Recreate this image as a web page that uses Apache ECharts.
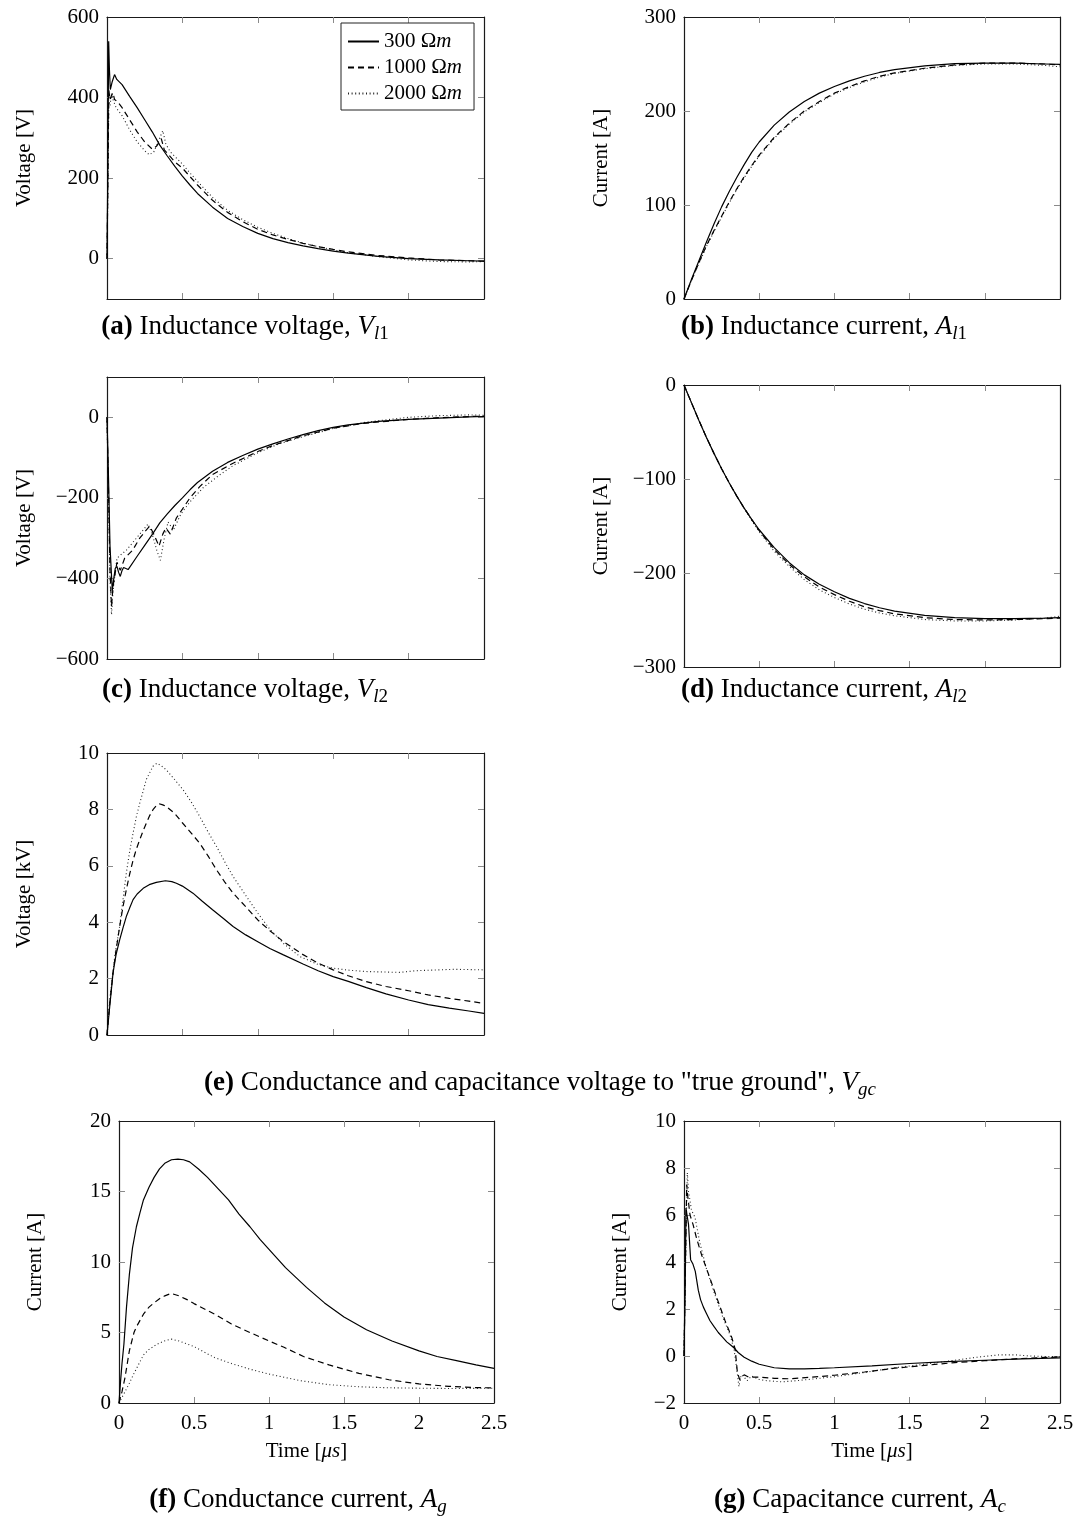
<!DOCTYPE html>
<html><head><meta charset="utf-8">
<script src="https://cdn.jsdelivr.net/npm/echarts@6/dist/echarts.min.js"></script>
<style>html,body{margin:0;padding:0;background:#fff}#c{width:1080px;height:1519px}</style>
</head><body><div id="c"></div>
<script>
// ---------------- DATA (time in µs, value) ----------------
const seriesNames = ['300 Ωm', '1000 Ωm', '2000 Ωm'];
const xTicks = [0, 0.5, 1, 1.5, 2, 2.5];

// (a) Inductance voltage V_l1 [V]
const a300 = [[0,0],[0.006,250],[0.011,540],[0.016,470],[0.022,420],[0.035,440],[0.05,457],[0.065,445],[0.1,432],[0.15,403],[0.2,375],[0.25,345],[0.3,315],[0.35,282],[0.4,255],[0.45,229],[0.5,205],[0.55,183],[0.6,162],[0.7,128],[0.8,100],[0.9,80],[1.0,63],[1.1,50],[1.2,40],[1.3,32],[1.4,25],[1.5,19],[1.6,14],[1.8,6],[2.0,0],[2.2,-3],[2.4,-5],[2.5,-6]];
const a1000 = [[0,0],[0.006,200],[0.012,420],[0.02,395],[0.03,405],[0.04,412],[0.05,395],[0.07,390],[0.1,375],[0.15,345],[0.2,315],[0.25,290],[0.3,272],[0.33,280],[0.36,298],[0.38,270],[0.4,262],[0.45,240],[0.5,225],[0.55,204],[0.6,183],[0.7,145],[0.8,115],[0.9,92],[1.0,73],[1.1,59],[1.2,48],[1.3,38],[1.4,30],[1.5,23],[1.6,17],[1.8,8],[2.0,2],[2.2,-3],[2.4,-5],[2.5,-6]];
const a2000 = [[0,0],[0.006,180],[0.012,395],[0.02,380],[0.03,410],[0.04,395],[0.06,375],[0.1,355],[0.15,320],[0.2,290],[0.25,268],[0.28,258],[0.31,265],[0.35,300],[0.37,318],[0.39,285],[0.42,265],[0.5,235],[0.55,213],[0.6,192],[0.7,152],[0.8,120],[0.9,97],[1.0,78],[1.1,63],[1.2,50],[1.3,39],[1.4,30],[1.5,22],[1.6,15],[1.8,5],[2.0,-3],[2.2,-7],[2.4,-8],[2.5,-7]];

// (b) Inductance current A_l1 [A]
const b300 = [[0,0],[0.05,21],[0.1,41],[0.15,61],[0.2,80],[0.25,98],[0.3,114],[0.35,129],[0.4,143],[0.45,156],[0.5,167],[0.6,185],[0.7,199],[0.8,210],[0.9,219],[1.0,226],[1.1,232],[1.2,237],[1.3,241],[1.4,244],[1.6,248],[1.8,250.5],[2.0,251],[2.2,251],[2.4,250],[2.5,249.5]];
const b1000 = [[0,0],[0.05,20],[0.1,39],[0.15,57],[0.2,73],[0.25,88],[0.3,103],[0.35,117],[0.4,130],[0.45,142],[0.5,153],[0.6,172],[0.7,187],[0.8,200],[0.9,210],[1.0,219],[1.1,226],[1.2,232],[1.3,237],[1.4,240.5],[1.6,245.5],[1.8,249],[2.0,251],[2.2,251],[2.4,250],[2.5,249]];
const b2000 = [[0,0],[0.05,20],[0.1,38],[0.15,56],[0.2,72],[0.25,87],[0.3,102],[0.35,116],[0.4,129],[0.45,141],[0.5,152],[0.6,171],[0.7,186],[0.8,199],[0.9,209],[1.0,218],[1.1,225],[1.2,231],[1.3,236],[1.4,240],[1.6,245],[1.8,248.5],[2.0,250],[2.2,250],[2.4,248.5],[2.5,247]];

// (c) Inductance voltage V_l2 [V]
const c300 = [[0,0],[0.01,-150],[0.02,-320],[0.035,-430],[0.045,-400],[0.055,-375],[0.066,-370],[0.077,-385],[0.088,-395],[0.1,-380],[0.11,-373],[0.14,-378],[0.2,-345],[0.25,-318],[0.305,-288],[0.35,-262],[0.4,-240],[0.45,-219],[0.5,-200],[0.55,-180],[0.6,-162],[0.7,-134],[0.8,-112],[0.9,-95],[1.0,-79],[1.1,-66],[1.2,-54],[1.3,-43],[1.4,-33],[1.5,-25],[1.6,-19],[1.8,-10],[2.0,-5],[2.2,-2],[2.4,1],[2.5,2]];
const c1000 = [[0,0],[0.01,-180],[0.02,-380],[0.03,-470],[0.04,-420],[0.066,-360],[0.088,-380],[0.117,-350],[0.17,-330],[0.217,-300],[0.26,-280],[0.283,-270],[0.31,-290],[0.345,-320],[0.37,-290],[0.39,-275],[0.42,-290],[0.46,-250],[0.5,-228],[0.55,-200],[0.615,-172],[0.7,-142],[0.836,-114],[1.0,-85],[1.1,-70],[1.28,-48],[1.5,-27],[1.7,-15],[2.0,-5],[2.2,-1],[2.5,3]];
const c2000 = [[0,0],[0.01,-200],[0.02,-400],[0.03,-490],[0.04,-430],[0.066,-350],[0.08,-345],[0.128,-330],[0.195,-300],[0.24,-280],[0.272,-265],[0.3,-290],[0.33,-330],[0.354,-355],[0.38,-300],[0.405,-260],[0.44,-280],[0.49,-240],[0.55,-210],[0.637,-175],[0.74,-145],[0.836,-120],[1.0,-88],[1.14,-66],[1.28,-50],[1.5,-28],[1.72,-12],[2.0,0],[2.2,4],[2.4,6],[2.5,5]];

// (d) Inductance current A_l2 [A]
const d300 = [[0,0],[0.05,-19],[0.1,-38],[0.15,-56],[0.2,-73],[0.25,-89],[0.3,-104],[0.35,-118],[0.4,-131],[0.45,-143],[0.5,-154],[0.6,-173],[0.7,-189],[0.8,-202],[0.9,-212],[1.0,-220],[1.1,-227],[1.2,-232.5],[1.3,-237],[1.4,-240.5],[1.6,-245],[1.8,-247.5],[2.0,-248.5],[2.2,-248.5],[2.4,-248],[2.5,-247.5]];
const d1000 = [[0,0],[0.05,-19],[0.1,-38],[0.15,-56],[0.2,-73],[0.25,-89],[0.3,-104],[0.35,-118],[0.4,-131],[0.45,-143],[0.5,-155],[0.6,-175],[0.7,-191],[0.8,-204],[0.9,-215],[1.0,-223],[1.1,-230],[1.2,-236],[1.3,-240],[1.4,-243.5],[1.6,-247.5],[1.8,-249.5],[2.0,-250],[2.2,-249.5],[2.4,-248.5],[2.5,-248]];
const d2000 = [[0,0],[0.05,-19],[0.1,-38],[0.15,-56],[0.2,-73],[0.25,-89],[0.3,-104],[0.35,-118],[0.4,-131],[0.45,-144],[0.5,-156],[0.6,-177],[0.7,-193],[0.8,-207],[0.9,-218],[1.0,-226],[1.1,-233],[1.2,-238.5],[1.3,-242.5],[1.4,-245.5],[1.6,-249.5],[1.8,-251],[2.0,-251],[2.2,-250],[2.4,-248],[2.5,-246]];

// (e) Conductance and capacitance voltage V_gc [kV]
const e300 = [[0,0],[0.018,1.0],[0.04,2.2],[0.06,2.85],[0.084,3.37],[0.106,3.8],[0.128,4.2],[0.15,4.5],[0.173,4.8],[0.2,5.0],[0.24,5.2],[0.28,5.33],[0.327,5.41],[0.387,5.47],[0.43,5.44],[0.46,5.38],[0.5,5.28],[0.57,5.03],[0.63,4.75],[0.7,4.44],[0.77,4.14],[0.836,3.85],[0.92,3.55],[1.0,3.31],[1.08,3.07],[1.17,2.84],[1.3,2.52],[1.4,2.28],[1.5,2.07],[1.6,1.9],[1.72,1.68],[1.85,1.46],[2.0,1.24],[2.13,1.08],[2.27,0.95],[2.4,0.85],[2.5,0.77]];
const e1000 = [[0,0],[0.018,1.1],[0.04,2.2],[0.06,3.0],[0.084,3.85],[0.106,4.55],[0.128,5.15],[0.15,5.7],[0.173,6.2],[0.195,6.6],[0.217,6.92],[0.24,7.25],[0.26,7.5],[0.283,7.78],[0.305,7.99],[0.325,8.12],[0.345,8.2],[0.37,8.16],[0.394,8.1],[0.45,7.85],[0.504,7.5],[0.56,7.15],[0.615,6.8],[0.67,6.35],[0.726,5.86],[0.78,5.43],[0.836,5.03],[0.92,4.55],[1.0,4.08],[1.08,3.7],[1.17,3.31],[1.3,2.85],[1.4,2.55],[1.5,2.31],[1.6,2.1],[1.72,1.89],[1.85,1.72],[2.0,1.57],[2.13,1.42],[2.27,1.3],[2.4,1.2],[2.5,1.12]];
const e2000 = [[0,0],[0.018,1.24],[0.051,2.78],[0.084,3.85],[0.106,4.8],[0.128,5.74],[0.15,6.5],[0.173,7.16],[0.195,7.75],[0.217,8.22],[0.24,8.65],[0.26,9.05],[0.283,9.3],[0.305,9.53],[0.332,9.64],[0.36,9.55],[0.394,9.4],[0.45,9.05],[0.504,8.7],[0.56,8.25],[0.615,7.75],[0.67,7.2],[0.726,6.69],[0.78,6.15],[0.836,5.62],[0.92,4.95],[1.0,4.32],[1.08,3.75],[1.17,3.25],[1.28,2.78],[1.4,2.5],[1.5,2.37],[1.6,2.3],[1.72,2.25],[1.94,2.22],[2.05,2.28],[2.2,2.31],[2.3,2.33],[2.5,2.31]];

// (f) Conductance current A_g [A]
const f300 = [[0,0],[0.01,1.5],[0.02,2.8],[0.033,4.2],[0.05,6.8],[0.069,9.1],[0.09,11.0],[0.116,12.5],[0.14,13.5],[0.163,14.4],[0.2,15.3],[0.234,16.0],[0.27,16.6],[0.305,17.0],[0.35,17.25],[0.393,17.3],[0.43,17.25],[0.471,17.1],[0.53,16.6],[0.59,16.0],[0.66,15.2],[0.73,14.4],[0.8,13.4],[0.873,12.5],[0.94,11.6],[1.0,10.9],[1.11,9.6],[1.25,8.2],[1.37,7.1],[1.5,6.1],[1.65,5.2],[1.82,4.4],[2.0,3.7],[2.12,3.3],[2.25,3.0],[2.38,2.7],[2.5,2.45]];
const f1000 = [[0,0],[0.02,0.8],[0.04,1.8],[0.069,3.7],[0.1,5.0],[0.116,5.4],[0.163,6.3],[0.2,6.8],[0.234,7.1],[0.27,7.4],[0.305,7.6],[0.348,7.77],[0.4,7.6],[0.45,7.35],[0.5,7.05],[0.637,6.3],[0.75,5.6],[0.873,5.0],[1.0,4.4],[1.1,3.95],[1.23,3.3],[1.4,2.7],[1.5,2.4],[1.6,2.1],[1.8,1.65],[2.0,1.35],[2.2,1.18],[2.35,1.1],[2.5,1.07]];
const f2000 = [[0,0],[0.02,0.4],[0.05,1.0],[0.069,1.4],[0.1,2.1],[0.163,3.4],[0.2,3.8],[0.25,4.15],[0.3,4.4],[0.348,4.53],[0.4,4.4],[0.45,4.2],[0.5,4.0],[0.637,3.22],[0.75,2.8],[0.873,2.4],[1.0,2.05],[1.2,1.6],[1.4,1.3],[1.6,1.15],[1.8,1.08],[2.0,1.05],[2.2,1.03],[2.4,1.04],[2.5,1.05]];

// (g) Capacitance current A_c [A]
const g300 = [[0,0],[0.008,3],[0.013,6.3],[0.02,6.0],[0.03,5.6],[0.044,4.1],[0.06,3.9],[0.075,3.6],[0.095,2.8],[0.11,2.4],[0.129,2.08],[0.15,1.8],[0.173,1.5],[0.2,1.25],[0.228,1.0],[0.256,0.8],[0.284,0.6],[0.31,0.47],[0.332,0.35],[0.36,0.15],[0.4,-0.05],[0.45,-0.22],[0.5,-0.35],[0.6,-0.5],[0.7,-0.55],[0.8,-0.55],[0.9,-0.53],[1.0,-0.5],[1.25,-0.42],[1.5,-0.32],[1.75,-0.24],[2.0,-0.18],[2.25,-0.12],[2.5,-0.08]];
const g1000 = [[0,0],[0.01,4],[0.018,7.3],[0.025,6.8],[0.04,6.0],[0.06,5.6],[0.084,5.0],[0.117,4.3],[0.162,3.5],[0.217,2.5],[0.273,1.5],[0.317,0.8],[0.34,0.3],[0.355,-0.7],[0.37,-1.0],[0.4,-0.8],[0.43,-0.9],[0.5,-0.9],[0.6,-0.95],[0.7,-0.97],[0.85,-0.9],[1.0,-0.82],[1.2,-0.68],[1.4,-0.52],[1.6,-0.4],[1.8,-0.28],[2.0,-0.2],[2.2,-0.12],[2.4,-0.06],[2.5,-0.05]];
const g2000 = [[0,0],[0.01,4],[0.022,7.8],[0.03,7.0],[0.05,6.2],[0.073,5.9],[0.106,4.8],[0.15,3.7],[0.206,2.6],[0.261,1.6],[0.306,0.9],[0.332,0.3],[0.35,-0.5],[0.365,-1.3],[0.38,-0.8],[0.4,-0.9],[0.42,-1.05],[0.45,-0.85],[0.5,-1.0],[0.55,-1.05],[0.65,-1.1],[0.75,-1.05],[0.9,-0.95],[1.0,-0.88],[1.2,-0.7],[1.4,-0.5],[1.6,-0.35],[1.8,-0.18],[1.95,-0.05],[2.1,0.05],[2.2,0.05],[2.3,0.0],[2.4,-0.02],[2.5,-0.03]];

// y tick labels per panel
const yTicksA = [0, 200, 400, 600];
const yTicksB = [0, 100, 200, 300];
const yTicksC = [-600, -400, -200, 0];
const yTicksD = [-300, -200, -100, 0];
const yTicksE = [0, 2, 4, 6, 8, 10];
const yTicksF = [0, 5, 10, 15, 20];
const yTicksG = [-2, 0, 2, 4, 6, 8, 10];

// ---------------- LAYOUT / STYLE ----------------
const FONT = '"Liberation Serif","Times New Roman",serif';
const FS = 21;      // plot text
const CFS = 27;     // caption text
const AXC = '#1a1a1a', TKC = '#8a8a8a';
const lineStyles = [
  {color:'#000', width:1.2, type:'solid'},
  {color:'#000', width:1.2, type:[6,4]},
  {color:'#222', width:1.1, type:[1,2.6]}
];
const panels = [
  {grid:{left:107,top:17,width:377,height:282}, min:-100, max:600, ticks:yTicksA, name:'Voltage [V]', gap:72, xl:false, data:[a300,a1000,a2000]},
  {grid:{left:684,top:17,width:376,height:282}, min:0, max:300, ticks:yTicksB, name:'Current [A]', gap:72, xl:false, data:[b300,b1000,b2000]},
  {grid:{left:107,top:377,width:377,height:282}, min:-600, max:100, ticks:yTicksC, name:'Voltage [V]', gap:72, xl:false, data:[c300,c1000,c2000]},
  {grid:{left:684,top:385,width:376,height:282}, min:-300, max:0, ticks:yTicksD, name:'Current [A]', gap:72, xl:false, data:[d300,d1000,d2000]},
  {grid:{left:107,top:753,width:377,height:282}, min:0, max:10, ticks:yTicksE, name:'Voltage [kV]', gap:72, xl:false, data:[e300,e1000,e2000]},
  {grid:{left:119,top:1121,width:375,height:282}, min:0, max:20, ticks:yTicksF, name:'Current [A]', gap:73, xl:true, data:[f300,f1000,f2000]},
  {grid:{left:684,top:1121,width:376,height:282}, min:-2, max:10, ticks:yTicksG, name:'Current [A]', gap:53, xl:true, data:[g300,g1000,g2000]}
];
const fmt = v => String(v).replace('-', '\u2212');

const grids = [], xAxes = [], yAxes = [], series = [];
panels.forEach((p, i) => {
  grids.push(Object.assign({containLabel:false, show:false}, p.grid));
  const tick = {show:true, inside:true, length:6, lineStyle:{color:TKC, width:1}};
  const axLine = {show:true, onZero:false, lineStyle:{color:AXC, width:1.2}};
  ['bottom','top'].forEach(pos => {
    xAxes.push({
      type:'value', gridIndex:i, position:pos, min:0, max:2.5, interval:0.5,
      axisLine:axLine, axisTick:Object.assign({customValues:xTicks.slice(1,-1)}, tick),
      splitLine:{show:false},
      axisLabel:{show: pos==='bottom' && p.xl, customValues:xTicks, margin:10, color:'#000', fontFamily:FONT, fontSize:FS, formatter:fmt},
      name: (pos==='bottom' && p.xl) ? 'Time [{i|μs}]' : '',
      nameLocation:'middle', nameGap:38,
      nameTextStyle:{color:'#000', fontFamily:FONT, fontSize:FS, rich:{i:{fontStyle:'italic', fontFamily:FONT, fontSize:FS, color:'#000'}}}
    });
  });
  ['left','right'].forEach(pos => {
    yAxes.push({
      type:'value', gridIndex:i, position:pos, min:p.min, max:p.max,
      axisLine:axLine,
      axisTick:Object.assign({customValues:p.ticks.filter(v => v!==p.min && v!==p.max)}, tick),
      splitLine:{show:false},
      axisLabel:{show: pos==='left', customValues:p.ticks, margin:8, color:'#000', fontFamily:FONT, fontSize:FS, formatter:fmt},
      name: pos==='left' ? p.name : '',
      nameLocation:'middle', nameRotate:90, nameGap:p.gap,
      nameTextStyle:{color:'#000', fontFamily:FONT, fontSize:FS}
    });
  });
  p.data.forEach((d, k) => {
    series.push({
      type:'line', name:seriesNames[k], xAxisIndex:2*i, yAxisIndex:2*i, data:d,
      symbol:'none', showSymbol:false, smooth:false, silent:true,
      itemStyle:{color:'#000'}, lineStyle:lineStyles[k], z: 3-k
    });
  });
});

const capRich = {
  b:{fontWeight:'bold', fontFamily:FONT, fontSize:CFS, fill:'#000'},
  i:{fontStyle:'italic', fontFamily:FONT, fontSize:CFS, fill:'#000'},
  s:{fontStyle:'italic', fontFamily:FONT, fontSize:19, padding:[14,0,0,0], verticalAlign:'bottom', fill:'#000'},
  n:{fontFamily:FONT, fontSize:19, padding:[14,0,0,0], verticalAlign:'bottom', fill:'#000'}
};
const captions = [
  {x:245, y:327, t:'{b|(a)} Inductance voltage, {i|V}{s|l}{n|1}'},
  {x:824, y:327, t:'{b|(b)} Inductance current, {i|A}{s|l}{n|1}'},
  {x:245, y:690, t:'{b|(c)} Inductance voltage, {i|V}{s|l}{n|2}'},
  {x:824, y:690, t:'{b|(d)} Inductance current, {i|A}{s|l}{n|2}'},
  {x:540, y:1083, t:'{b|(e)} Conductance and capacitance voltage to "true ground", {i|V}{s|gc}'},
  {x:298, y:1500, t:'{b|(f)} Conductance current, {i|A}{s|g}'},
  {x:860, y:1500, t:'{b|(g)} Capacitance current, {i|A}{s|c}'}
];
const graphic = captions.map(c => ({
  type:'text', x:c.x, y:c.y, silent:true,
  style:{text:c.t, rich:capRich, fontFamily:FONT, fontSize:CFS, fill:'#000', align:'center', verticalAlign:'middle'}
}));

const chart = echarts.init(document.getElementById('c'), null, {renderer:'canvas'});
chart.setOption({
  animation:false,
  backgroundColor:'#fff',
  grid:grids, xAxis:xAxes, yAxis:yAxes, series:series,
  legend:{
    show:true, orient:'vertical', left:341, top:23, padding:[8,12,6,6], itemGap:5,
    itemWidth:31, itemHeight:14, backgroundColor:'#fff',
    borderColor:'#222', borderWidth:1, borderRadius:0, selectedMode:false,
    data:seriesNames,
    itemStyle:{opacity:0},
    formatter: n => n.replace('Ωm', 'Ω{i|m}'),
    textStyle:{color:'#000', fontFamily:FONT, fontSize:FS,
      rich:{i:{fontStyle:'italic', fontFamily:FONT, fontSize:FS, color:'#000'}}}
  },
  graphic:graphic
});
</script></body></html>
